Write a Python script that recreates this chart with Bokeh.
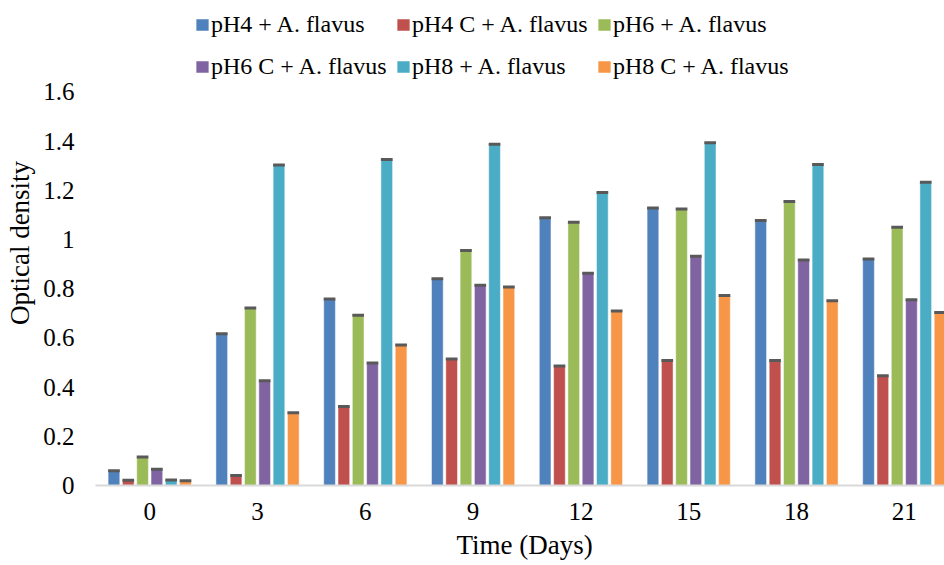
import numpy as np
from bokeh.plotting import figure
from bokeh.models import (ColumnDataSource, Range1d, FixedTicker, Legend, LegendItem, Title)
from bokeh.embed import file_html
from bokeh.resources import INLINE

# ---- data ----
days = ["0", "3", "6", "9", "12", "15", "18", "21"]
series_names = ["pH4 + A. flavus", "pH4 C + A. flavus", "pH6 + A. flavus",
                "pH6 C + A. flavus", "pH8 + A. flavus", "pH8 C + A. flavus"]
ph4 = [0.060, 0.617, 0.758, 0.840, 1.088, 1.128, 1.077, 0.921]
ph4_c = [0.021, 0.041, 0.321, 0.514, 0.486, 0.508, 0.508, 0.446]
ph6 = [0.116, 0.722, 0.692, 0.955, 1.070, 1.124, 1.155, 1.050]
ph6_c = [0.066, 0.426, 0.498, 0.814, 0.863, 0.932, 0.917, 0.755]
ph8 = [0.022, 1.303, 1.325, 1.387, 1.191, 1.393, 1.305, 1.233]
ph8_c = [0.019, 0.296, 0.571, 0.807, 0.709, 0.772, 0.751, 0.703]
y_ticks = [0, 0.2, 0.4, 0.6, 0.8, 1, 1.2, 1.4, 1.6]
y_tick_labels = ["0", "0.2", "0.4", "0.6", "0.8", "1", "1.2", "1.4", "1.6"]

series_values = [ph4, ph4_c, ph6, ph6_c, ph8, ph8_c]
colors = ["#4F81BD", "#C0504D", "#9BBB59", "#8064A2", "#4BACC6", "#F79646"]

FONT = "Liberation Serif"
TICK_SIZE = "25px"
TITLE_SIZE = "27px"
LEGEND_SIZE = "24px"

p = figure(width=944, height=565, output_backend="svg", toolbar_location=None,
           x_range=Range1d(-0.503, 7.373), y_range=Range1d(0, 486 / 246.5),
           min_border_left=95, min_border_right=0, min_border_top=0, min_border_bottom=79)
p.outline_line_color = None
p.background_fill_color = "white"
p.border_fill_color = "white"
p.xgrid.grid_line_color = None
p.ygrid.grid_line_color = None

pitch = 0.1327
bar_w = 0.1085
x_base = np.arange(len(days))
renderers = []
for k, (vals, col) in enumerate(zip(series_values, colors)):
    xs = x_base + (k - 2.5) * pitch
    src = ColumnDataSource(dict(x=xs, top=vals))
    r = p.vbar(x="x", top="top", width=bar_w, bottom=0, source=src,
               fill_color=col, line_color="white", line_width=1, line_alpha=0.5)
    p.rect(x="x", y="top", width=bar_w, height=3, height_units="screen", source=src,
           fill_color="#595959", line_color=None)
    renderers.append(r)

# x axis
xa = p.xaxis[0]
xa.ticker = FixedTicker(ticks=list(range(len(days))))
xa.major_label_overrides = {i: d for i, d in enumerate(days)}
xa.axis_line_color = "#D9D9D9"
xa.axis_line_width = 2
xa.major_tick_line_color = None
xa.minor_tick_line_color = None
xa.major_tick_in = 0
xa.major_tick_out = 0
xa.major_label_standoff = 17
xa.major_label_text_font = FONT
xa.major_label_text_font_size = TICK_SIZE
xa.major_label_text_color = "black"

# y axis
ya = p.yaxis[0]
ya.ticker = FixedTicker(ticks=y_ticks)
ya.major_label_overrides = {t: l for t, l in zip(y_ticks, y_tick_labels)}
ya.axis_line_color = None
ya.major_tick_line_color = None
ya.minor_tick_line_color = None
ya.major_tick_in = 0
ya.major_tick_out = 0
ya.major_label_standoff = 21
ya.major_label_text_font = FONT
ya.major_label_text_font_size = TICK_SIZE
ya.major_label_text_color = "black"
ya.axis_label = "Optical density"
ya.axis_label_text_font = FONT
ya.axis_label_text_font_size = TITLE_SIZE
ya.axis_label_text_font_style = "normal"
ya.axis_label_text_color = "black"
ya.axis_label_standoff = 5

# x axis title
p.add_layout(Title(text="Time (Days)", align="left", offset=361, standoff=11,
                   text_font=FONT, text_font_size=TITLE_SIZE, text_font_style="normal",
                   text_color="black"), "below")

# legend: two rows
def make_legend(idx, y):
    lg = Legend(items=[LegendItem(label=series_names[i], renderers=[renderers[i]]) for i in idx],
                orientation="horizontal", location=(99, y),
                label_text_font=FONT, label_text_font_size=LEGEND_SIZE, label_text_color="black",
                glyph_width=16, glyph_height=15, label_standoff=1, label_width=177,
                label_height=27, spacing=7, padding=0, margin=0,
                border_line_color=None, background_fill_alpha=0)
    p.add_layout(lg, "center")

make_legend([0, 1, 2], 447)
make_legend([3, 4, 5], 405)

open("out.html", "w").write(file_html(p, INLINE))
